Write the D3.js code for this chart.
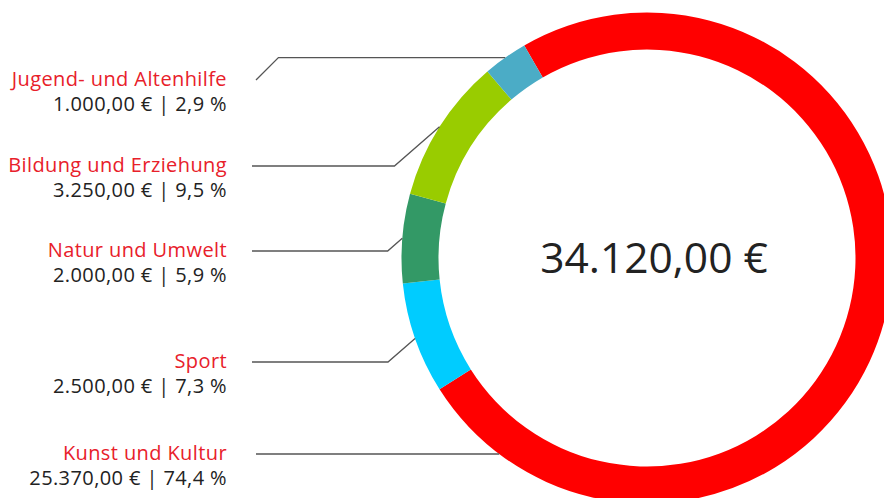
<!DOCTYPE html>
<html>
<head>
<meta charset="utf-8">
<script src="https://cdn.jsdelivr.net/npm/d3@7"></script>
<style>
  body { margin: 0; background: #fff; }
  svg { display: block; font-family: "Open Sans", sans-serif; }
</style>
</head>
<body>
<svg id="chart"></svg>
<script>
document.addEventListener("DOMContentLoaded", function () {
    const width = 884, height = 498;

    // data, clockwise from the top-left start of the red slice
    const categories = ["Kunst und Kultur", "Sport", "Natur und Umwelt", "Bildung und Erziehung", "Jugend- und Altenhilfe"];
    const amounts = [25370, 2500, 2000, 3250, 1000];
    const colors = ["#ff0000", "#00ccff", "#339966", "#99cc00", "#4bacc6"];

    // label baselines (layout), same order as categories
    const labelY = [460, 368, 257, 172, 86];

    const cx = 647, cy = 258, outerR = 245.5, innerR = 208.5;

    const svg = d3.select("#chart")
        .attr("width", width)
        .attr("height", height);

    const total = d3.sum(amounts);
    const start = -30 * Math.PI / 180;

    const pie = d3.pie()
        .sort(null)
        .startAngle(start)
        .endAngle(start + 2 * Math.PI);

    const arcs = pie(amounts);

    const arc = d3.arc().innerRadius(innerR).outerRadius(outerR);

    const g = svg.append("g").attr("transform", `translate(${cx},${cy})`);

    g.selectAll("path")
        .data(arcs)
        .enter()
        .append("path")
        .attr("d", arc)
        .attr("fill", (d, i) => colors[i]);

    const euro = v => v.toLocaleString("de-DE", { minimumFractionDigits: 2, maximumFractionDigits: 2 }) + " €";
    const pct = v => (v * 100).toLocaleString("de-DE", { minimumFractionDigits: 1, maximumFractionDigits: 1 }) + " %";

    svg.append("text")
        .attr("x", 654)
        .attr("y", 273)
        .attr("text-anchor", "middle")
        .attr("font-size", 42.5)
        .attr("fill", "#222")
        .text(euro(total));

    const labels = svg.append("g");
    const textX = 227, lineX = 252;

    arcs.forEach(function (d, i) {
        const y = labelY[i];
        const lineY = y - 6;
        labels.append("text")
            .attr("x", textX)
            .attr("y", y)
            .attr("text-anchor", "end")
            .attr("font-size", 20)
            .attr("letter-spacing", 0.4)
            .attr("fill", "#e8202a")
            .text(categories[i]);
        labels.append("text")
            .attr("x", textX)
            .attr("y", y + 25)
            .attr("text-anchor", "end")
            .attr("font-size", 20)
            .attr("letter-spacing", 0.4)
            .attr("fill", "#222")
            .text(euro(amounts[i]) + " | " + pct(amounts[i] / total));

        // leader line target on the outer edge
        const mid = (d.startAngle + d.endAngle) / 2;
        let tx = cx + outerR * Math.sin(mid);
        let ty = cy - outerR * Math.cos(mid);
        let pts;
        if (tx > cx) {
            // big slice: straight line to the ring at label height
            ty = lineY;
            tx = cx - Math.sqrt(outerR * outerR - (ty - cy) * (ty - cy));
            pts = [[lineX + 4, lineY], [tx, ty]];
        } else if (Math.cos(mid) > Math.SQRT1_2) {
            // near the top: go up first, then across
            const dy = lineY - ty;
            pts = [[lineX + 4, lineY], [lineX + 4 + dy, ty], [tx, ty]];
        } else {
            const dy = Math.abs(ty - lineY);
            pts = [[lineX, lineY], [tx - dy * 1.15, lineY], [tx, ty]];
        }
        labels.append("path")
            .attr("d", d3.line()(pts))
            .attr("fill", "none")
            .attr("stroke", "#555")
            .attr("stroke-width", 1.3);
    });
});
</script>
</body>
</html>
